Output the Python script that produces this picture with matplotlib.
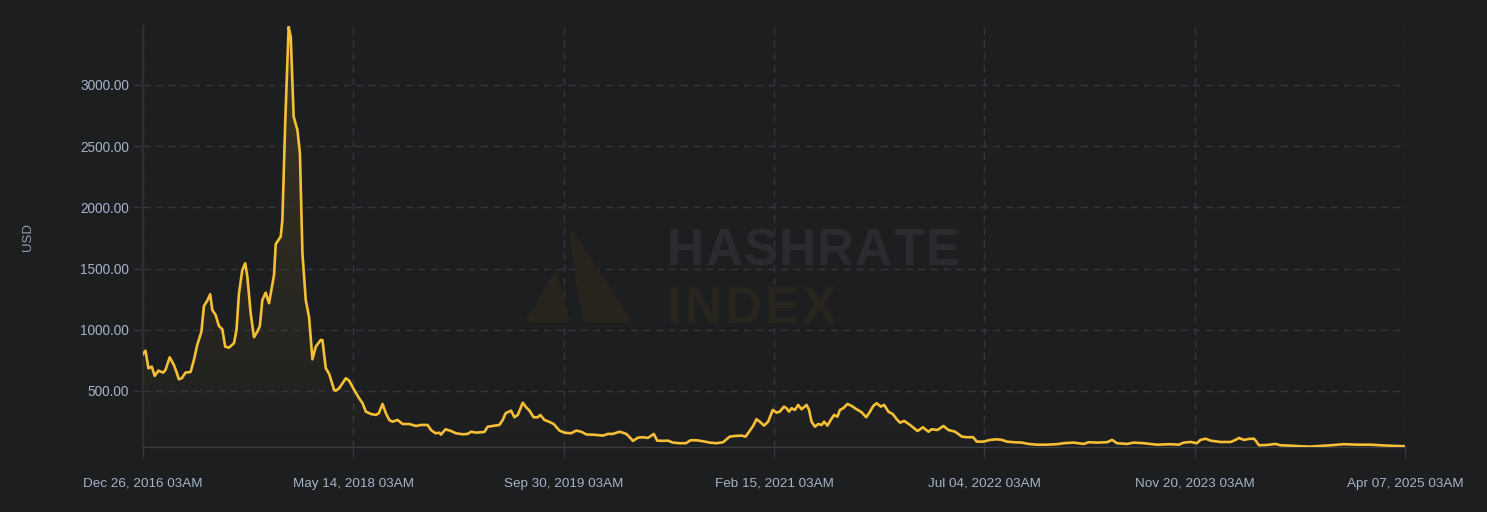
import numpy as np
import pandas as pd
import matplotlib
matplotlib.use("Agg")
import matplotlib.pyplot as plt
import matplotlib.dates as mdates
from matplotlib.patches import Polygon

# days after the first sample (Dec 26, 2016 03AM) and the USD value
start = pd.Timestamp("2016-12-26 03:00")
days = [0, 6, 13, 21, 28, 37, 48, 54, 64, 74, 80, 86, 93, 102, 114, 122, 130, 140, 146, 154,
        161, 166, 174, 182, 190, 197, 206, 218, 224, 230, 238, 245, 250, 258, 266, 274, 280, 286,
        294, 302, 309, 314, 318, 330, 334, 341, 349, 354, 361, 370, 376, 382, 390, 398, 406, 414,
        426, 430, 438, 446, 458, 462, 470, 486, 494, 506, 518, 526, 534, 546, 558, 565, 574, 582,
        590, 598, 610, 622, 638, 654, 666, 682, 690, 701, 710, 714, 725, 738, 750, 766, 778, 786,
        798, 818, 826, 838, 854, 862, 869, 882, 890, 898, 910, 918, 926, 936, 946, 952, 962, 974,
        984, 998, 1010, 1026, 1038, 1050, 1062, 1086, 1102, 1114, 1126, 1142, 1158, 1166, 1174,
        1186, 1198, 1210, 1224, 1232, 1246, 1258, 1270, 1286, 1301, 1312, 1326, 1342, 1358, 1374,
        1390, 1406, 1418, 1434, 1444, 1454, 1462, 1470, 1478, 1488, 1498, 1509, 1518, 1526, 1536,
        1542, 1548, 1554, 1562, 1570, 1578, 1590, 1596, 1602, 1610, 1618, 1626, 1632, 1640, 1648,
        1656, 1664, 1670, 1678, 1688, 1698, 1710, 1722, 1733, 1742, 1750, 1758, 1768, 1776, 1786,
        1797, 1806, 1814, 1824, 1838, 1856, 1869, 1882, 1890, 1904, 1918, 1930, 1946, 1962, 1974,
        1989, 1998, 2014, 2030, 2046, 2058, 2070, 2086, 2106, 2122, 2142, 2166, 2190, 2206, 2230,
        2254, 2266, 2286, 2310, 2322, 2334, 2358, 2374, 2398, 2430, 2462, 2482, 2494, 2510, 2525,
        2534, 2546, 2558, 2582, 2606, 2618, 2626, 2638, 2650, 2662, 2668, 2674, 2694, 2714, 2726,
        2750, 2774, 2798, 2822, 2846, 2878, 2910, 2942, 2966, 2998, 3024]
usd = [802, 829, 685, 699, 623, 666, 650, 672, 775, 712, 658, 595, 604, 650, 655, 753, 876, 985, 1194, 1238,
       1290, 1162, 1121, 1031, 1004, 862, 854, 890, 998, 1298, 1489, 1543, 1434, 1135, 939, 985, 1031, 1243,
       1303, 1217, 1352, 1448, 1700, 1761, 1897, 2714, 3476, 3395, 2741, 2632, 2442, 1625, 1243, 1100, 759, 862,
       917, 915, 685, 640, 508, 502, 522, 604, 584, 508, 440, 400, 331, 312, 304, 318, 394, 318,
       263, 249, 263, 230, 230, 214, 222, 222, 181, 154, 159, 143, 187, 173, 154, 146, 149, 167,
       159, 165, 208, 214, 222, 263, 318, 339, 285, 304, 404, 367, 339, 285, 285, 304, 263, 247,
       230, 176, 159, 154, 176, 167, 145, 141, 135, 149, 149, 167, 149, 122, 92,
       118, 122, 116, 149, 94, 92, 94, 78, 73, 73, 97, 97, 89, 78, 73,
       81, 127, 132, 135, 127, 176, 214, 269, 249, 217, 249, 345, 323, 331, 372,
       359, 331, 359, 345, 386, 350, 386, 345, 249, 208, 230, 222, 249, 217, 263,
       304, 290, 345, 359, 394, 378, 350, 326, 285, 331, 378, 400, 372, 386, 331,
       310, 269, 241, 255, 222, 173, 203, 167, 187, 181, 214, 181, 167, 127, 122,
       122, 86, 86, 100, 105, 100, 86, 81, 78, 67, 61, 61, 65, 73, 78,
       67, 81, 78, 81, 100, 73, 67, 78, 73, 61, 65, 61, 78, 83, 73,
       100, 110, 94, 83, 83, 100, 116, 100, 108, 110, 86, 56, 59, 67, 56,
       53, 48, 45, 51, 56, 65, 61, 61, 56, 51, 48]

tick_dates = ["2016-12-26 03:00", "2018-05-14 03:00", "2019-09-30 03:00", "2021-02-15 03:00",
              "2022-07-04 03:00", "2023-11-20 03:00", "2025-04-07 03:00"]
y_ticks = [500, 1000, 1500, 2000, 2500, 3000]

BG = "#1d1e20"
LINE = "#f5bf36"
TXT = "#a5b4c8"
GRID = "#35373c"

dates = start + pd.to_timedelta(days, unit="D")
xnum = mdates.date2num(dates)
ymin, ymax = 42, 3482

fig = plt.figure(figsize=(14.87, 5.12), dpi=100, facecolor=BG)
W, H = 1487, 512
ax = fig.add_axes([143 / W, 1 - 447 / H, (1405 - 143) / W, (447 - 26) / H])
ax.set_facecolor(BG)

# gradient fill under the line
grad = np.zeros((256, 1, 4))
grad[:, 0, 0] = 245 / 255
grad[:, 0, 1] = 192 / 255
grad[:, 0, 2] = 55 / 255
grad[:, 0, 3] = np.linspace(0.01, 0.15, 256)
img = ax.imshow(grad, extent=[xnum[0], xnum[-1], ymin, ymax], origin="lower",
                aspect="auto", zorder=1)
verts = list(zip(xnum, usd)) + [(xnum[-1], ymin), (xnum[0], ymin)]
clip = Polygon(verts, closed=True, facecolor="none", edgecolor="none")
ax.add_patch(clip)
img.set_clip_path(clip)

ax.plot(xnum, usd, color=LINE, lw=1.9, solid_joinstyle="round", zorder=3)

ax.set_xlim(xnum[0], xnum[-1])
ax.set_ylim(ymin, ymax)
ax.set_xticks(mdates.date2num(pd.to_datetime(tick_dates)))
ax.xaxis.set_major_formatter(mdates.DateFormatter("%b %d, %Y %I%p"))
ax.set_yticks(y_ticks)
ax.set_yticklabels(["%.2f" % v for v in y_ticks])

ax.grid(True, color=GRID, lw=1.0, linestyle=(0, (5, 4)), zorder=0)
ax.tick_params(axis="x", colors=GRID, labelcolor=TXT, length=8, width=1.0, pad=14, labelsize=9.7)
ax.tick_params(axis="y", colors=GRID, labelcolor=TXT, length=7, width=1.0, pad=3, labelsize=9.8)
for lab in ax.get_xticklabels() + ax.get_yticklabels():
    lab.set_fontfamily("Liberation Sans")
for s in ["top", "right"]:
    ax.spines[s].set_visible(False)
ax.spines["left"].set_color("#2c2e32")
ax.spines["left"].set_linewidth(1.6)
ax.spines["bottom"].set_color("#3a3c41")
ax.spines["bottom"].set_linewidth(1.0)

fig.text(28 / W, 1 - 237 / H, "USD", rotation=90, ha="center", va="center",
         color="#8f9db0", fontsize=9.5, family="Liberation Sans")

# watermark, letters spaced out one by one
renderer = fig.canvas.get_renderer()


def spaced_text(x, y, s, color, gap):
    for ch in s:
        t = fig.text(x / W, 1 - y / H, ch, color=color, fontsize=37, fontweight="bold",
                     family="Liberation Sans", ha="left", va="baseline")
        x += t.get_window_extent(renderer).width + gap


spaced_text(667, 265, "HASHRATE", "#2a2b2e", 1.1)
spaced_text(667, 323, "INDEX", "#28251f", 3.0)

logo_col = "#27241e"
for tri in ([(555, 276), (529, 320), (567, 320)], [(572, 235), (585, 320), (628, 320)]):
    pts = [(x / W, 1 - y / H) for x, y in tri]
    fig.add_artist(Polygon(pts, closed=True, transform=fig.transFigure, facecolor=logo_col,
                           edgecolor=logo_col, lw=4, joinstyle="round"))

fig.savefig("out.png", dpi=100, facecolor=BG)
